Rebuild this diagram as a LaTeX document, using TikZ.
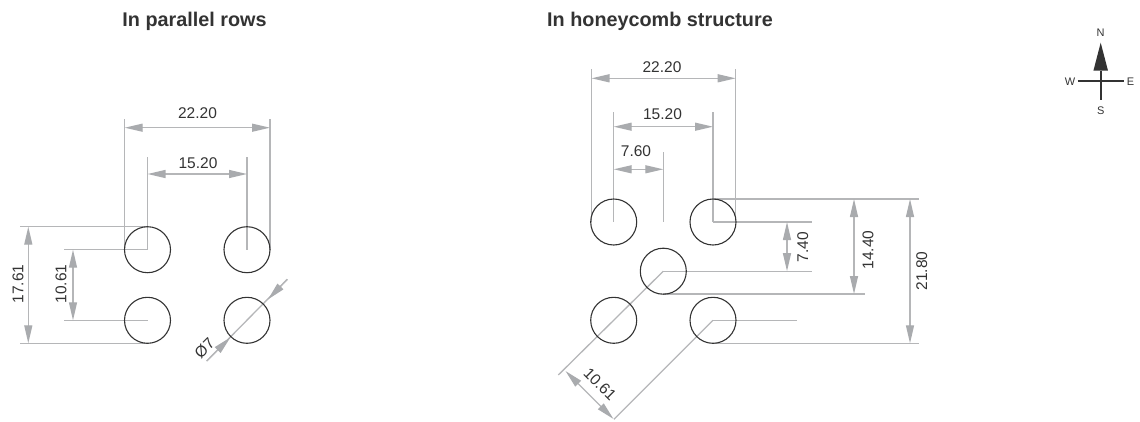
\documentclass[tikz,border=0pt]{standalone}
\usepackage{fontspec}
\setmainfont{Liberation Sans}
\usetikzlibrary{arrows.meta}
\definecolor{ink}{HTML}{333333}
\definecolor{ext}{HTML}{B5B6B8}
\definecolor{tipc}{HTML}{A9ABAE}
\tikzset{
  x=1pt,y=-1pt,
  hole/.style={circle,draw=ink,line width=1.1pt,minimum size=46pt,inner sep=0pt,outer sep=0pt},
  extline/.style={draw=ext,line width=1.3pt},
  dimtip/.tip={Triangle[length=18pt,width=8pt,color=tipc]},
  dimline/.style={draw=ext,line width=1.3pt,dimtip-dimtip},
  halfdim/.style={draw=ext,line width=1.3pt,-dimtip},
  dimtext/.style={text=ink,font=\fontsize{15.5}{18}\selectfont,inner sep=0pt},
  titletext/.style={text=ink,font=\fontsize{19.8}{24}\selectfont\bfseries,inner sep=0pt},
  compasstext/.style={text=ink,font=\fontsize{11}{13}\selectfont,inner sep=0pt},
}
\begin{document}
\begin{tikzpicture}
\useasboundingbox (0,0) rectangle (1140,421);
% titles
\node[titletext] (t1) at (194.5,21) {In parallel rows};
\node[titletext] (t2) at (660,21) {In honeycomb structure};
% reference points: parallel rows
\coordinate (A) at (147.5,249.7);
\coordinate (B) at (247,249.7);
\coordinate (C) at (147.5,320.3);
\coordinate (D) at (247,320.3);
\coordinate (a1) at (124.7,119.3);
\coordinate (a2) at (124.7,249.7);
\coordinate (a3) at (270,119.3);
\coordinate (a4) at (270,249.7);
\coordinate (a5) at (147.5,157);
\coordinate (a6) at (247,157);
\coordinate (a7) at (20,226.7);
\coordinate (a8) at (147.5,226.7);
\coordinate (a9) at (20,343.3);
\coordinate (a10) at (147.5,343.3);
\coordinate (a11) at (64,249.7);
\coordinate (a12) at (64,320.3);
\coordinate (a13) at (206.7,361);
\coordinate (a14) at (287.3,279.3);
% dimension arrows: parallel rows
\coordinate (d1l) at (124.7,127.7);
\coordinate (d1r) at (270,127.7);
\coordinate (d2l) at (147.5,174);
\coordinate (d2r) at (247,174);
\coordinate (d3t) at (28.3,226.7);
\coordinate (d3b) at (28.3,343.3);
\coordinate (d4t) at (73,249.7);
\coordinate (d4b) at (73,320.3);
\coordinate (d5a) at (230.4,337.4);
\coordinate (d5b) at (268,299.4);
\draw[extline] (a1) -- (a2);
\draw[extline] (a3) -- (a4);
\draw[extline] (a5) -- (A);
\draw[extline] (a6) -- (B);
\draw[extline] (a7) -- (a8);
\draw[extline] (a9) -- (a10);
\draw[extline] (a11) -- (A);
\draw[extline] (a12) -- (C);
\draw[extline] (a13) -- (a14);
\draw[dimline] (d1l) -- (d1r);
\draw[dimline] (d2l) -- (d2r);
\draw[dimline] (d3t) -- (d3b);
\draw[dimline] (d4t) -- (d4b);
\draw[halfdim] (a13) -- (d5a);
\draw[halfdim] (a14) -- (d5b);
\node[hole] (c1) at (A) {};
\node[hole] (c2) at (B) {};
\node[hole] (c3) at (C) {};
\node[hole] (c4) at (D) {};
\node[dimtext] (l1) at (197.5,113.5) {22.20};
\node[dimtext] (l2) at (198,163) {15.20};
\node[dimtext,rotate=90] (l3) at (18,284) {17.61};
\node[dimtext,rotate=90] (l4) at (61,284) {10.61};
\node[dimtext,rotate=45] (l5) at (204.5,348) {Ø7};
% reference points: honeycomb
\coordinate (E) at (613.7,222);
\coordinate (F) at (713,222);
\coordinate (G) at (663.3,271.2);
\coordinate (H) at (613.7,320.3);
\coordinate (I) at (713,320.3);
\coordinate (b1) at (591.5,69.3);
\coordinate (b2) at (591.5,222);
\coordinate (b3) at (735.7,69.3);
\coordinate (b4) at (735.7,222);
\coordinate (b5) at (613.7,112.3);
\coordinate (b6) at (713,112.3);
\coordinate (b7) at (663.3,152.3);
\coordinate (b8) at (663.3,222);
\coordinate (b9) at (713,199);
\coordinate (b10) at (919,199);
\coordinate (b11) at (811.7,222);
\coordinate (b12) at (811.7,271.2);
\coordinate (b13) at (663.3,294);
\coordinate (b14) at (865,294);
\coordinate (b15) at (796.7,320.3);
\coordinate (b16) at (713,343.3);
\coordinate (b17) at (919,343.3);
\coordinate (b18) at (558.3,375);
\coordinate (b19) at (614,419.3);
% dimension arrows: honeycomb
\coordinate (e1l) at (591.5,78.3);
\coordinate (e1r) at (735.7,78.3);
\coordinate (e2l) at (613.7,126.7);
\coordinate (e2r) at (713,126.7);
\coordinate (e3l) at (613.7,169.3);
\coordinate (e3r) at (663.3,169.3);
\coordinate (e4t) at (787,222);
\coordinate (e4b) at (787,271.2);
\coordinate (e5t) at (854,199);
\coordinate (e5b) at (854,294);
\coordinate (e6t) at (910,199);
\coordinate (e6b) at (910,343.3);
\coordinate (e7a) at (565.5,371);
\coordinate (e7b) at (613.5,419);
\draw[extline] (b1) -- (b2);
\draw[extline] (b3) -- (b4);
\draw[extline] (b5) -- (E);
\draw[extline] (b6) -- (F);
\draw[extline] (b7) -- (b8);
\draw[extline] (b9) -- (b10);
\draw[extline] (F) -- (b11);
\draw[extline] (G) -- (b12);
\draw[extline] (b13) -- (b14);
\draw[extline] (I) -- (b15);
\draw[extline] (b16) -- (b17);
\draw[extline] (b18) -- (G);
\draw[extline] (b19) -- (I);
\draw[dimline] (e1l) -- (e1r);
\draw[dimline] (e2l) -- (e2r);
\draw[dimline] (e3l) -- (e3r);
\draw[dimline] (e4t) -- (e4b);
\draw[dimline] (e5t) -- (e5b);
\draw[dimline] (e6t) -- (e6b);
\draw[dimline] (e7a) -- (e7b);
\node[hole] (c5) at (E) {};
\node[hole] (c6) at (F) {};
\node[hole] (c7) at (G) {};
\node[hole] (c8) at (H) {};
\node[hole] (c9) at (I) {};
\node[dimtext] (m1) at (662,67) {22.20};
\node[dimtext] (m2) at (662.5,114) {15.20};
\node[dimtext] (m3) at (636,151) {7.60};
\node[dimtext,rotate=90] (m4) at (802.7,247) {7.40};
\node[dimtext,rotate=90] (m5) at (868,250) {14.40};
\node[dimtext,rotate=90] (m6) at (921.7,271) {21.80};
\node[dimtext,rotate=-45] (m7) at (600,384) {10.61};
% compass
\coordinate (cW) at (1077.7,81.3);
\coordinate (cE) at (1124,81.3);
\coordinate (cS) at (1100.7,100);
\coordinate (cN) at (1100.7,42.7);
\coordinate (cB) at (1100.7,70.7);
\draw[draw=ink,line width=1.8pt] (cW) -- (cE);
\draw[draw=ink,line width=1.8pt] (cB) -- (cS);
\fill[ink] (cN) -- ([xshift=7.3pt]cB) -- ([xshift=-7.3pt]cB) -- cycle;
\node[compasstext] (nN) at (1100.7,33) {N};
\node[compasstext] (nS) at (1100.7,111) {S};
\node[compasstext] (nW) at (1070,81.3) {W};
\node[compasstext] (nE) at (1130.5,81.3) {E};
\end{tikzpicture}
\end{document}
